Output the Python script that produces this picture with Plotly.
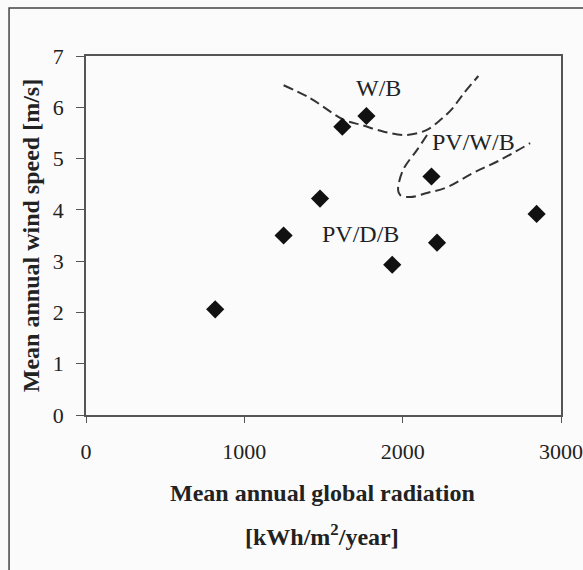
import plotly.graph_objects as go

# Data points
radiation = [816, 1248, 1478, 1619, 1771, 1934, 2182, 2217, 2846]
wind_speed = [2.06, 3.50, 4.22, 5.62, 5.83, 2.93, 4.65, 3.36, 3.92]

# Dashed boundary curves
wb_x = [1248, 1414, 1626, 1745, 1887, 2017, 2147, 2241, 2312, 2383, 2478]
wb_y = [6.43, 6.18, 5.76, 5.65, 5.52, 5.46, 5.55, 5.76, 5.97, 6.26, 6.61]
pvwb_x = [2154, 2091, 2003, 1971, 1984, 2047, 2154, 2280, 2445, 2615, 2805]
pvwb_y = [5.46, 5.17, 4.78, 4.39, 4.29, 4.25, 4.33, 4.44, 4.72, 4.97, 5.30]

# Region labels
label_text = ["W/B", "PV/W/B", "PV/D/B"]
label_x = [1845, 2445, 1733]
label_y = [6.37, 5.32, 3.52]

x_ticks = [0, 1000, 2000, 3000]
y_ticks = [0, 1, 2, 3, 4, 5, 6, 7]

x_title_lines = ["Mean annual global radiation", "[kWh/m<sup>2</sup>/year]"]
y_title = "Mean annual wind speed [m/s]"

FONT = "Liberation Serif"
TXT = "#222"

fig = go.Figure()
fig.add_trace(go.Scatter(x=wb_x, y=wb_y, mode="lines",
                         line=dict(color="#333", width=2, dash="10px,5px", shape="spline"),
                         hoverinfo="skip", showlegend=False))
fig.add_trace(go.Scatter(x=pvwb_x, y=pvwb_y, mode="lines",
                         line=dict(color="#333", width=2, dash="10px,5px", shape="spline"),
                         hoverinfo="skip", showlegend=False))
fig.add_trace(go.Scatter(x=radiation, y=wind_speed, mode="markers",
                         marker=dict(symbol="diamond", size=14, color="#111"),
                         showlegend=False))

for t, x, y in zip(label_text, label_x, label_y):
    fig.add_annotation(x=x, y=y, text=t, showarrow=False,
                       font=dict(family=FONT, size=24, color=TXT))

# X axis title (two lines, wide spacing as in the reference)
fig.add_annotation(xref="paper", yref="paper", x=0.497, y=-0.217,
                   xanchor="center", yanchor="middle",
                   text="<b>" + x_title_lines[0] + "</b>", showarrow=False,
                   font=dict(family=FONT, size=24, color=TXT))
fig.add_annotation(xref="paper", yref="paper", x=0.497, y=-0.335,
                   xanchor="center", yanchor="middle",
                   text="<b>" + x_title_lines[1] + "</b>", showarrow=False,
                   font=dict(family=FONT, size=24, color=TXT))

# Outer frame
fig.add_shape(type="rect", xref="paper", yref="paper",
              x0=-0.162, x1=1.08, y0=-0.46, y1=1.134,
              line=dict(color="#444", width=1.5), fillcolor="rgba(0,0,0,0)")

fig.update_xaxes(range=[0, 3000], tickvals=x_ticks, ticks="outside", ticklen=6,
                 tickcolor="#555", showline=True, linecolor="#555", linewidth=1.5,
                 mirror=True, showgrid=False, zeroline=False, automargin=False,
                 ticklabelstandoff=10,
                 tickfont=dict(family=FONT, size=22, color=TXT))
fig.update_yaxes(range=[0, 7], tickvals=y_ticks, ticks="outside", ticklen=8,
                 tickcolor="#555", showline=True, linecolor="#555", linewidth=1.5,
                 mirror=True, showgrid=False, zeroline=False, automargin=False,
                 ticklabelstandoff=8,
                 tickfont=dict(family=FONT, size=22, color=TXT),
                 title=dict(text="<b>" + y_title + "</b>",
                            font=dict(family=FONT, size=24, color=TXT), standoff=6))

fig.update_layout(width=583, height=570,
                  margin=dict(l=86, r=22, t=56, b=155),
                  paper_bgcolor="#fbfbfb", plot_bgcolor="#fbfbfb")

fig.write_html("out.html")
